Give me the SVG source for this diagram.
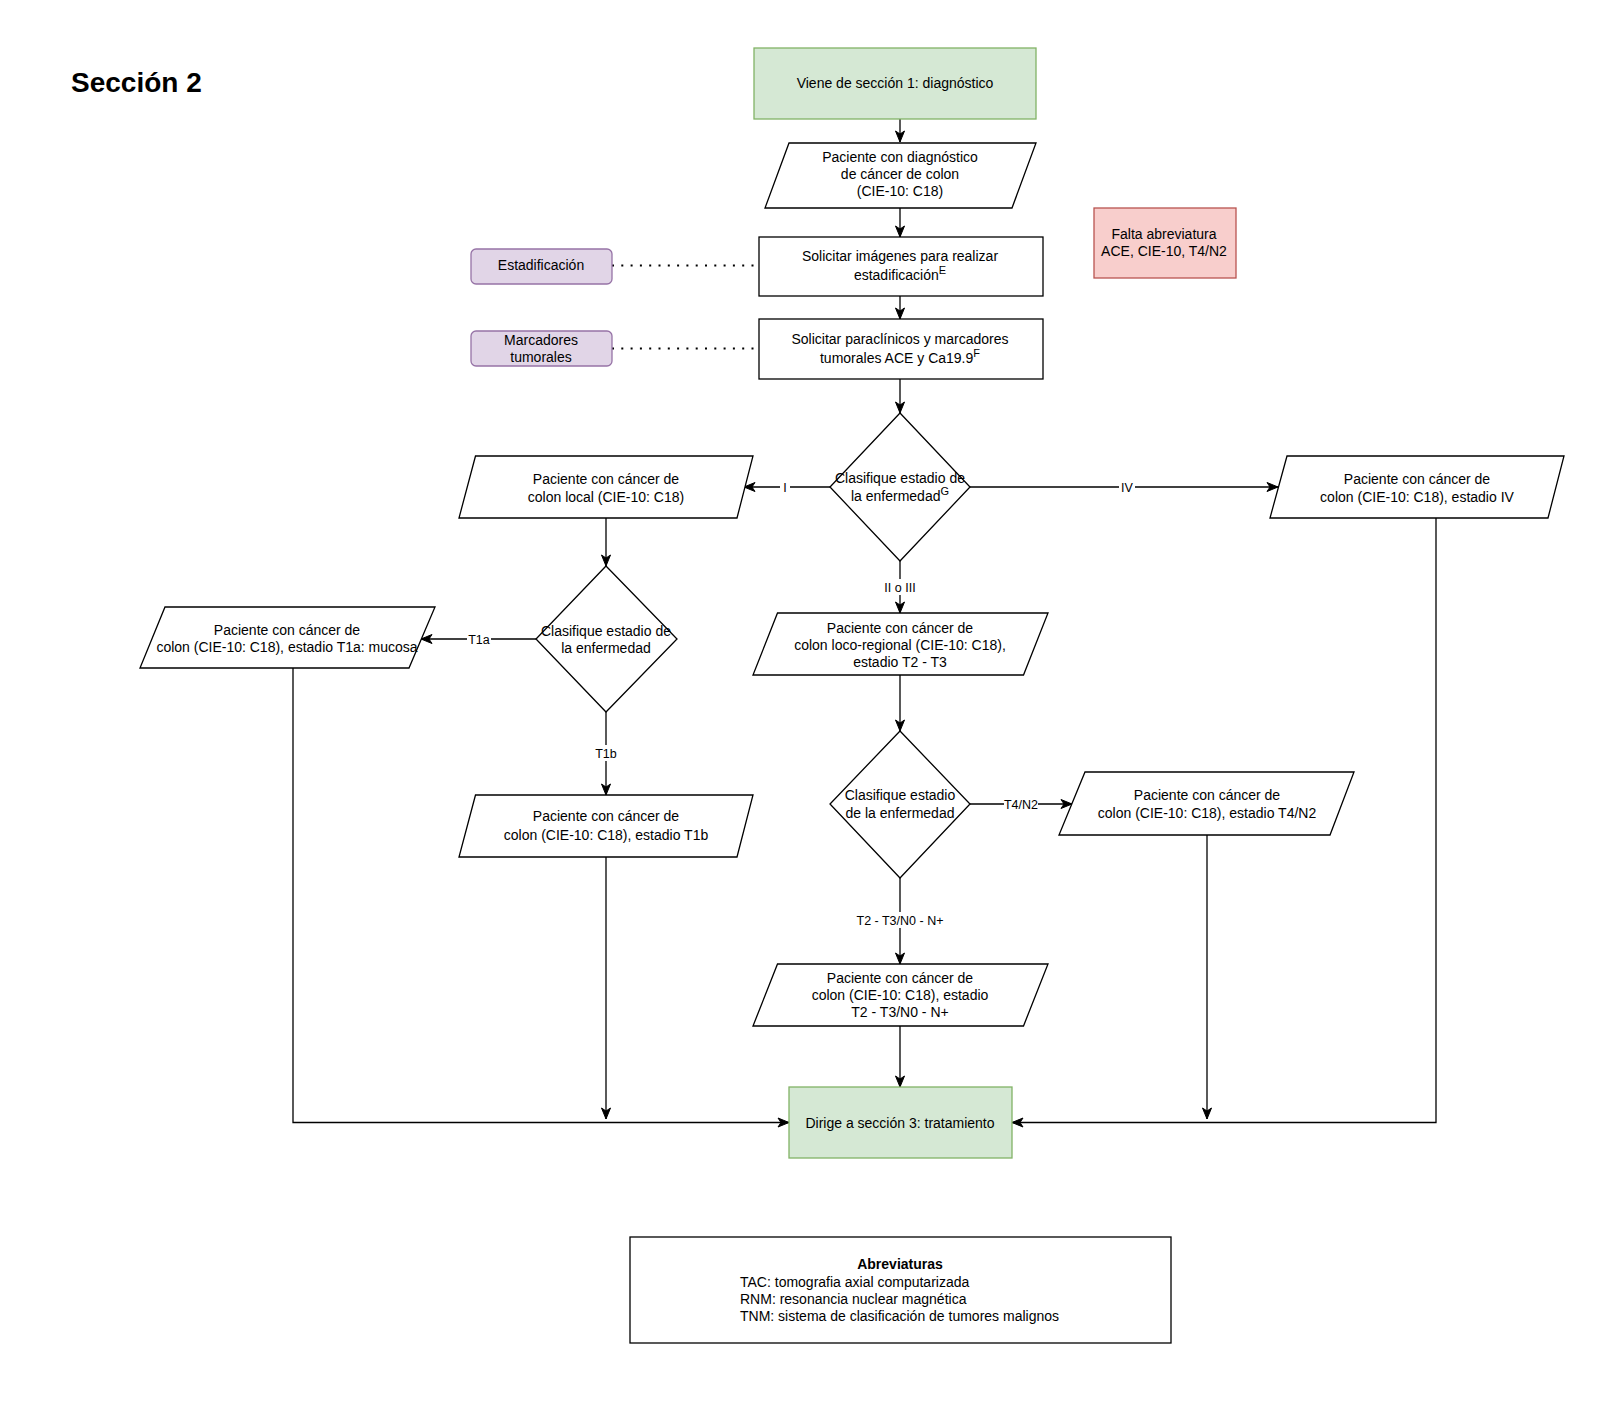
<svg xmlns="http://www.w3.org/2000/svg" width="1600" height="1424" viewBox="0 0 1600 1424">
<style>
text{font-family:"Liberation Sans",Arial,sans-serif;font-size:14px;fill:#000}
.c{text-anchor:middle}
.sup{font-size:11px}
.lbl{font-size:12.5px;text-anchor:middle}
.n{fill:#fff;stroke:#000;stroke-width:1.3}
.g{fill:#d5e8d4;stroke:#82b366;stroke-width:1.3}
.p{fill:#e1d5e7;stroke:#9673a6;stroke-width:1.3}
.r{fill:#f8cecc;stroke:#b85450;stroke-width:1.3}
.e{fill:none;stroke:#000;stroke-width:1.3}
.d{fill:none;stroke:#000;stroke-width:2;stroke-dasharray:2 7.3}
.bg{fill:#fff}
</style>
<defs>
<marker id="a" markerUnits="userSpaceOnUse" markerWidth="13" markerHeight="11" refX="12" refY="5.5" orient="auto">
<path d="M1,1 L12,5.5 L1,10 L4,5.5 z" fill="#000" stroke="#000" stroke-width="1"/>
</marker>
</defs>
<rect width="1600" height="1424" fill="#fff"/>
<text x="71" y="92" style="font-size:28px;font-weight:bold">Sección 2</text>

<g id="edges">
<path class="e" d="M900,119 V142" marker-end="url(#a)"/>
<path class="e" d="M900,208 V237" marker-end="url(#a)"/>
<path class="e" d="M900,296 V319" marker-end="url(#a)"/>
<path class="e" d="M900,379 V413" marker-end="url(#a)"/>
<path class="d" d="M612,265.5 H759"/>
<path class="d" d="M612,348.5 H759"/>
<path class="e" d="M830,487 H744" marker-end="url(#a)"/>
<rect class="bg" x="780" y="479" width="10" height="16"/>
<text class="lbl" x="785" y="492">I</text>
<path class="e" d="M970,487 H1278" marker-end="url(#a)"/>
<rect class="bg" x="1119" y="479" width="16" height="16"/>
<text class="lbl" x="1127" y="492">IV</text>
<path class="e" d="M900,561 V613" marker-end="url(#a)"/>
<rect class="bg" x="880" y="579" width="40" height="16"/>
<text class="lbl" x="900" y="592">II o III</text>
<path class="e" d="M606,518 V566" marker-end="url(#a)"/>
<path class="e" d="M536,639 H421" marker-end="url(#a)"/>
<rect class="bg" x="467" y="631" width="24" height="16"/>
<text class="lbl" x="479" y="644">T1a</text>
<path class="e" d="M606,712 V795" marker-end="url(#a)"/>
<rect class="bg" x="594" y="745" width="24" height="16"/>
<text class="lbl" x="606" y="758">T1b</text>
<path class="e" d="M900,675 V731" marker-end="url(#a)"/>
<path class="e" d="M970,804 H1072" marker-end="url(#a)"/>
<rect class="bg" x="1004" y="796" width="34" height="16"/>
<text class="lbl" x="1021" y="809">T4/N2</text>
<path class="e" d="M900,878 V964" marker-end="url(#a)"/>
<rect class="bg" x="854" y="912" width="92" height="16"/>
<text class="lbl" x="900" y="925">T2 - T3/N0 - N+</text>
<path class="e" d="M900,1026 V1087" marker-end="url(#a)"/>
<path class="e" d="M293,668 V1122.5 H789" marker-end="url(#a)"/>
<path class="e" d="M606,857 V1119" marker-end="url(#a)"/>
<path class="e" d="M1207,835 V1119" marker-end="url(#a)"/>
<path class="e" d="M1436,518 V1122.5 H1012" marker-end="url(#a)"/>
</g>

<g id="n-inicio">
<rect class="g" x="754" y="48" width="282" height="71"/>
<text class="c" x="895" y="88">Viene de sección 1: diagnóstico</text>
</g>
<g id="n-paciente">
<polygon class="n" points="789,143 1036,143 1012,208 765,208"/>
<text class="c" x="900" y="162">Paciente con diagnóstico</text>
<text class="c" x="900" y="179">de cáncer de colon</text>
<text class="c" x="900" y="196">(CIE-10: C18)</text>
</g>
<g id="n-imagenes">
<rect class="n" x="759" y="237" width="284" height="59"/>
<text class="c" x="900" y="261">Solicitar imágenes para realizar</text>
<text class="c" x="900" y="280">estadificación<tspan class="sup" dy="-6">E</tspan></text>
</g>
<g id="n-paraclinicos">
<rect class="n" x="759" y="319" width="284" height="60"/>
<text class="c" x="900" y="344">Solicitar paraclínicos y marcadores</text>
<text class="c" x="900" y="363">tumorales ACE y Ca19.9<tspan class="sup" dy="-6">F</tspan></text>
</g>
<g id="n-estadificacion">
<rect class="p" x="471" y="249" width="141" height="35" rx="5"/>
<text class="c" x="541" y="270">Estadificación</text>
</g>
<g id="n-marcadores">
<rect class="p" x="471" y="331" width="141" height="35" rx="5"/>
<text class="c" x="541" y="345">Marcadores</text>
<text class="c" x="541" y="362">tumorales</text>
</g>
<g id="n-falta">
<rect class="r" x="1094" y="208" width="142" height="70"/>
<text class="c" x="1164" y="238.5">Falta abreviatura</text>
<text class="c" x="1164" y="256">ACE, CIE-10, T4/N2</text>
</g>
<g id="n-dec1">
<polygon class="n" points="900,413 970,487 900,561 830,487"/>
<text class="c" x="900" y="482.5">Clasifique estadio de</text>
<text class="c" x="900" y="501">la enfermedad<tspan class="sup" dy="-6">G</tspan></text>
</g>
<g id="n-local">
<polygon class="n" points="475.5,456 753,456 737,518 459,518"/>
<text class="c" x="606" y="483.5">Paciente con cáncer de</text>
<text class="c" x="606" y="502">colon local (CIE-10: C18)</text>
</g>
<g id="n-iv">
<polygon class="n" points="1287,456 1564,456 1548,518 1270,518"/>
<text class="c" x="1417" y="483.5">Paciente con cáncer de</text>
<text class="c" x="1417" y="502">colon (CIE-10: C18), estadio IV</text>
</g>
<g id="n-dec2">
<polygon class="n" points="606,566 677,639 606,712 536,639"/>
<text class="c" x="606" y="635.5">Clasifique estadio de</text>
<text class="c" x="606" y="653">la enfermedad</text>
</g>
<g id="n-t1a">
<polygon class="n" points="165,607 435,607 409,668 140,668"/>
<text class="c" x="287" y="634.5">Paciente con cáncer de</text>
<text class="c" x="287" y="652">colon (CIE-10: C18), estadio T1a: mucosa</text>
</g>
<g id="n-t1b">
<polygon class="n" points="475.5,795 753,795 737,857 459,857"/>
<text class="c" x="606" y="821">Paciente con cáncer de</text>
<text class="c" x="606" y="839.5">colon (CIE-10: C18), estadio T1b</text>
</g>
<g id="n-locoregional">
<polygon class="n" points="777.5,613 1048,613 1023.5,675 753,675"/>
<text class="c" x="900" y="632.5">Paciente con cáncer de</text>
<text class="c" x="900" y="650">colon loco-regional (CIE-10: C18),</text>
<text class="c" x="900" y="667">estadio T2 - T3</text>
</g>
<g id="n-dec3">
<polygon class="n" points="900,731 970,804 900,878 830,804"/>
<text class="c" x="900" y="800">Clasifique estadio</text>
<text class="c" x="900" y="818">de la enfermedad</text>
</g>
<g id="n-t4n2">
<polygon class="n" points="1085,772 1354,772 1330,835 1059,835"/>
<text class="c" x="1207" y="800">Paciente con cáncer de</text>
<text class="c" x="1207" y="818">colon (CIE-10: C18), estadio T4/N2</text>
</g>
<g id="n-t2t3">
<polygon class="n" points="777.5,964 1048,964 1023.5,1026 753,1026"/>
<text class="c" x="900" y="982.5">Paciente con cáncer de</text>
<text class="c" x="900" y="1000">colon (CIE-10: C18), estadio</text>
<text class="c" x="900" y="1017">T2 - T3/N0 - N+</text>
</g>
<g id="n-dirige">
<rect class="g" x="789" y="1087" width="223" height="71"/>
<text class="c" x="900" y="1127.5">Dirige a sección 3: tratamiento</text>
</g>
<g id="n-abreviaturas">
<rect class="n" x="630" y="1237" width="541" height="106"/>
<text class="c" x="900" y="1269" style="font-weight:bold">Abreviaturas</text>
<text x="740" y="1287">TAC: tomografia axial computarizada</text>
<text x="740" y="1304">RNM: resonancia nuclear magnética</text>
<text x="740" y="1321">TNM: sistema de clasificación de tumores malignos</text>
</g>
</svg>
